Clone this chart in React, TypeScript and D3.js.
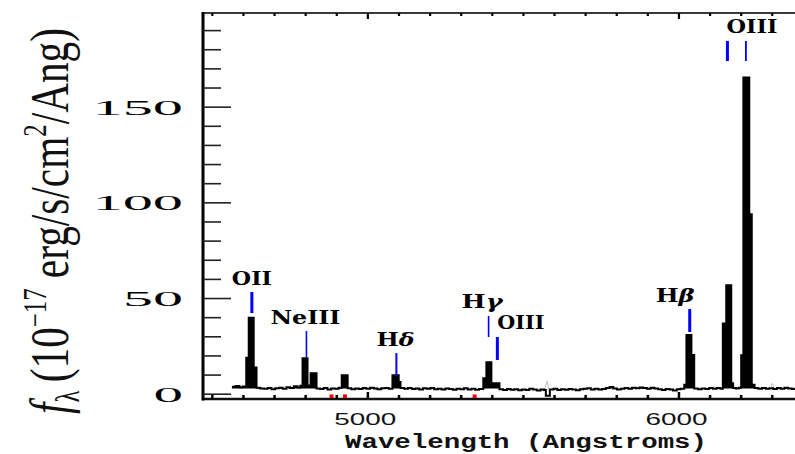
import React, { useLayoutEffect, useRef, useState } from 'react';
import * as d3 from 'd3';

// Redshift of the galaxy; line markers are placed at rest * (1 + z)
const REDSHIFT = 0.241;

// Observed-frame spectrum as step bins: [bin start wavelength (Å), flux (1e-17 erg/s/cm²/Å)]
const spectrum: [number, number][] = [
  [4563, 3.9], [4575, 4.3], [4587, 3.6], [4598, 4.0],
  [4609, 19], [4617, 40], [4633, 14], [4642, 3.4],
  [4654, 3.0], [4666, 2.8], [4678, 3.3], [4690, 2.6], [4702, 3.1], [4714, 3.4],
  [4726, 2.9], [4738, 3.6], [4750, 3.2], [4762, 4.1], [4774, 3.5], [4783, 4.4],
  [4790, 18.8], [4806, 4.6], [4816, 11], [4835, 3.0],
  [4846, 2.7], [4858, 3.2], [4870, 2.5], [4882, 3.0], [4894, 2.8], [4906, 3.4],
  [4916, 9.9], [4935, 3.1],
  [4947, 2.6], [4959, 3.0], [4971, 2.7], [4983, 3.2], [4995, 2.9], [5007, 3.4],
  [5019, 3.0], [5031, 2.6], [5043, 3.1], [5055, 3.3], [5067, 2.8],
  [5079, 9.9], [5099, 6.4], [5105, 3.2],
  [5117, 2.9], [5129, 3.3], [5141, 2.7], [5153, 3.0], [5165, 2.5], [5177, 3.1],
  [5189, 2.8], [5201, 3.3], [5213, 2.6], [5225, 2.9], [5237, 2.4], [5249, 3.0],
  [5261, 2.7], [5273, 2.3], [5285, 2.9], [5297, 2.6], [5309, 3.1], [5321, 2.5],
  [5333, 2.8], [5345, 2.3], [5357, 2.7],
  [5371, 8.4], [5381, 16.7], [5397, 5.7], [5423, 2.6],
  [5435, 2.2], [5447, 2.7], [5459, 2.3], [5471, 2.6], [5483, 2.1], [5495, 2.5],
  [5507, 2.2], [5519, 2.8], [5531, 2.4], [5543, 2.0], [5555, 2.5], [5566, 2.2],
  [5572, -0.8], [5585, 2.4],
  [5597, 2.8], [5609, 2.2], [5621, 2.6], [5633, 2.3], [5645, 2.7], [5657, 2.5],
  [5669, 2.1], [5681, 2.6], [5693, 2.8], [5705, 3.1], [5717, 2.5], [5729, 2.9],
  [5741, 2.4], [5753, 2.7], [5765, 3.2], [5777, 3.8], [5789, 3.0], [5801, 2.5],
  [5813, 2.8], [5825, 3.3], [5837, 2.9], [5849, 3.4], [5861, 3.1], [5873, 3.5],
  [5885, 3.2], [5897, 2.8], [5909, 3.4], [5921, 3.0], [5933, 2.6], [5945, 2.2],
  [5957, 2.7], [5969, 2.4], [5981, 2.0], [5993, 2.6], [6005, 2.9],
  [6017, 5.0], [6024, 31], [6040, 20.5], [6049, 3.0],
  [6061, 2.6], [6073, 3.0], [6085, 2.7], [6097, 3.2], [6109, 2.8], [6121, 3.3], [6133, 2.9],
  [6141, 37], [6152, 57], [6168, 5.7], [6174, 3.2],
  [6183, 3.0], [6192, 3.4],
  [6200, 20.4], [6207, 165.5], [6226, 94], [6234, 5.0], [6243, 3.2],
  [6255, 2.9], [6267, 3.3], [6279, 2.8], [6291, 3.1], [6303, 2.7], [6315, 3.2],
  [6327, 2.9], [6339, 3.4], [6351, 3.0], [6363, 2.7], [6375, 3.1], [6387, 3.0],
];

// Residuals of the 5577 Å and 6300 Å night-sky lines
const skyResidual: [number, number][][] = [
  [[5568, 2.4], [5576, 7.0], [5582, 2.4]],
  [[6294, 3.0], [6300, 5.8], [6306, 3.0]],
];

// Emission lines: label, rest vacuum wavelength, marker extent in flux units
const emissionLabels = ['OII', 'NeIII', 'Hδ', 'Hγ', 'OIII', 'Hβ', 'OIII', ''];
const emissionRest = [3728.5, 3869.9, 4102.9, 4341.7, 4364.4, 4862.7, 4960.3, 5008.2];
const markerLow = [42.4, 19.4, 9.5, 29.9, 17.9, 32.5, 174.1, 174.1];
const markerHigh = [53.4, 33.0, 21.5, 40.9, 29.9, 44.5, 184.6, 184.6];

// Absorption features (Ca K, Ca H, G band), rest vacuum wavelengths
const absorptionRest = [3934.8, 3969.6, 4305.6];

const xMajorTicks = [5000, 6000];
const xMinorTicks = d3.range(4500, 6400, 100);
const yMajorTicks = [0, 50, 100, 150];
const yMinorTicks = d3.range(0, 200, 10);

// Presentation of each emission label: anchor relative to its marker and stretched width
const labelStyle = [
  { anchor: 'middle', dx: 0, w: 40 },
  { anchor: 'middle', dx: -1, w: 70 },
  { anchor: 'middle', dx: -1, w: 38 },
  { anchor: 'end', dx: 14, w: 41 },
  { anchor: 'start', dx: 0, w: 47 },
  { anchor: 'end', dx: 5, w: 39 },
  { anchor: 'start', dx: -1, w: 51 },
  { anchor: 'start', dx: 0, w: 0 },
];
const markerWidth = [3, 1.6, 2, 1.6, 3, 3, 3, 1.8];

const W = 795;
const H = 454;
const LEFT = 203;
const TOP = 13;
const BOTTOM = 399;

type Anchor = 'start' | 'middle' | 'end';

// Text squeezed or stretched to an exact width
function StretchText(props: {
  x: number; y: number; width: number; anchor?: Anchor; fontSize: number;
  fontFamily: string; fontWeight?: string | number; fill?: string; children: React.ReactNode;
}) {
  const { x, y, width, anchor = 'start', fontSize, fontFamily, fontWeight = 'normal', fill = '#000', children } = props;
  const left = anchor === 'start' ? x : anchor === 'middle' ? x - width / 2 : x - width;
  return (
    <text
      x={left}
      y={y}
      textLength={width}
      lengthAdjust="spacingAndGlyphs"
      fontSize={fontSize}
      fontFamily={fontFamily}
      fontWeight={fontWeight}
      fill={fill}
    >
      {children}
    </text>
  );
}

function RotatedTitle(props: { baseX: number; startY: number; length: number; capHeight: number }) {
  const { baseX, startY, length, capHeight } = props;
  const fs = 30;
  const ref = useRef<SVGTextElement>(null);
  const [sy, setSy] = useState(1);
  useLayoutEffect(() => {
    if (ref.current) {
      const w = ref.current.getComputedTextLength();
      if (w > 0) setSy(length / w);
    }
  }, [length]);
  const sx = capHeight / (0.66 * fs);
  return (
    <g transform={`translate(${baseX},${startY}) scale(${sx},${sy}) rotate(-90)`}>
      <text ref={ref} x={0} y={0} fontSize={fs} fontFamily="'Liberation Serif', 'DejaVu Serif', serif" fill="#111">
        <tspan fontStyle="italic">f</tspan>
        <tspan fontSize={18} dy={6}>λ</tspan>
        <tspan dy={-6}>{'\u2009(10'}</tspan>
        <tspan fontSize={18} dy={-12}>−17</tspan>
        <tspan dy={12}>{' erg/s/cm'}</tspan>
        <tspan fontSize={18} dy={-12}>2</tspan>
        <tspan dy={12}>/Ang)</tspan>
      </text>
    </g>
  );
}

function greekLabel(label: string) {
  if (label.startsWith('H') && label.length === 2) {
    return (
      <>
        <tspan>H</tspan>
        <tspan fontStyle="italic">{label[1]}</tspan>
      </>
    );
  }
  return label;
}

export default function App() {
  const x = d3.scaleLinear().domain([4470, 6373]).range([LEFT, W]);
  const y = d3.scaleLinear().domain([-2.5, 199.2]).range([BOTTOM, TOP]);

  const line = d3
    .line<[number, number]>()
    .x((d) => x(d[0]))
    .y((d) => y(d[1]))
    .curve(d3.curveStepAfter);

  const fill = d3
    .area<[number, number]>()
    .x((d) => x(d[0]))
    .y0((d) => y(Math.min(d[1], 3)))
    .y1((d) => y(d[1]))
    .curve(d3.curveStepAfter);

  const skyLine = d3
    .line<[number, number]>()
    .x((d) => x(d[0]))
    .y((d) => y(d[1]));

  const obs = (rest: number) => rest * (1 + REDSHIFT);

  const serif = "'Liberation Serif', 'DejaVu Serif', serif";
  const boldSerif = "'DejaVu Serif', 'Liberation Serif', serif";
  const sans = "'Liberation Sans', Arial, sans-serif";
  const mono = "'Liberation Mono', 'DejaVu Sans Mono', monospace";

  return (
    <svg width={W} height={H} style={{ position: 'absolute', left: 0, top: 0, background: '#fff' }}>
      <rect x={0} y={0} width={W} height={H} fill="#fff" />

      {/* sky-line residuals */}
      {skyResidual.map((s, i) => (
        <path key={`sky${i}`} d={skyLine(s) ?? ''} fill="none" stroke="#c4c4c4" strokeWidth={1} />
      ))}

      {/* spectrum */}
      <path d={fill(spectrum) ?? ''} fill="#000" stroke="none" />
      <path d={line(spectrum) ?? ''} fill="none" stroke="#000" strokeWidth={2} strokeLinejoin="miter" />

      {/* frame */}
      <line x1={LEFT} x2={W} y1={TOP} y2={TOP} stroke="#3a3a3a" strokeWidth={2} />
      <line x1={LEFT - 1} x2={W} y1={BOTTOM} y2={BOTTOM} stroke="#111" strokeWidth={2.5} />
      <line x1={LEFT} x2={LEFT} y1={TOP - 1} y2={BOTTOM + 1.5} stroke="#000" strokeWidth={3} />

      {/* x ticks, bottom and top */}
      {xMinorTicks.map((t) => {
        const major = xMajorTicks.includes(t);
        const len = major ? 7 : 4;
        return (
          <g key={`xt${t}`}>
            <line x1={x(t)} x2={x(t)} y1={BOTTOM} y2={BOTTOM - len} stroke="#000" strokeWidth={2.5} />
            <line x1={x(t)} x2={x(t)} y1={TOP} y2={TOP + len - 1} stroke="#000" strokeWidth={2.2} />
          </g>
        );
      })}

      {/* y ticks */}
      {yMinorTicks.map((t) => {
        const major = yMajorTicks.includes(t);
        return (
          <line
            key={`yt${t}`}
            x1={LEFT}
            x2={LEFT + (major ? 28 : 18)}
            y1={y(t)}
            y2={y(t)}
            stroke="#222"
            strokeWidth={1.6}
          />
        );
      })}

      {/* absorption features */}
      {absorptionRest.map((r, i) => (
        <rect key={`abs${i}`} x={x(obs(r)) - 2} y={BOTTOM - 4.5} width={4} height={3.5} fill="#ff0000" />
      ))}

      {/* emission line markers */}
      {emissionRest.map((r, i) => (
        <line
          key={`em${i}`}
          x1={x(obs(r))}
          x2={x(obs(r))}
          y1={y(markerLow[i])}
          y2={y(markerHigh[i])}
          stroke="#0000ff"
          strokeWidth={markerWidth[i]}
        />
      ))}

      {/* emission line labels */}
      {emissionLabels.map((lab, i) =>
        lab ? (
          <StretchText
            key={`lab${i}`}
            x={x(obs(emissionRest[i])) + labelStyle[i].dx}
            y={y(markerHigh[i]) - 7.5}
            width={labelStyle[i].w}
            anchor={labelStyle[i].anchor as Anchor}
            fontSize={18}
            fontFamily={boldSerif}
            fontWeight="bold"
          >
            {greekLabel(lab)}
          </StretchText>
        ) : null
      )}

      {/* y tick labels */}
      {yMajorTicks.map((t) => {
        const s = String(t);
        return (
          <StretchText key={`yl${t}`} x={183} y={y(t) + 7.5} width={30.5 * s.length - 1} anchor="end" fontSize={22} fontFamily={serif}>
            {s}
          </StretchText>
        );
      })}

      {/* x tick labels */}
      {xMajorTicks.map((t) => (
        <StretchText key={`xl${t}`} x={x(t) - 2.5} y={425} width={62} anchor="middle" fontSize={16.5} fontFamily={sans} fill="#111">
          {String(t)}
        </StretchText>
      ))}

      {/* axis titles */}
      <StretchText x={345} y={448} width={362} fontSize={20} fontFamily={mono} fontWeight="bold" fill="#111">
        Wavelength (Angstroms)
      </StretchText>
      <RotatedTitle baseX={68} startY={414} length={386} capHeight={36} />
    </svg>
  );
}
